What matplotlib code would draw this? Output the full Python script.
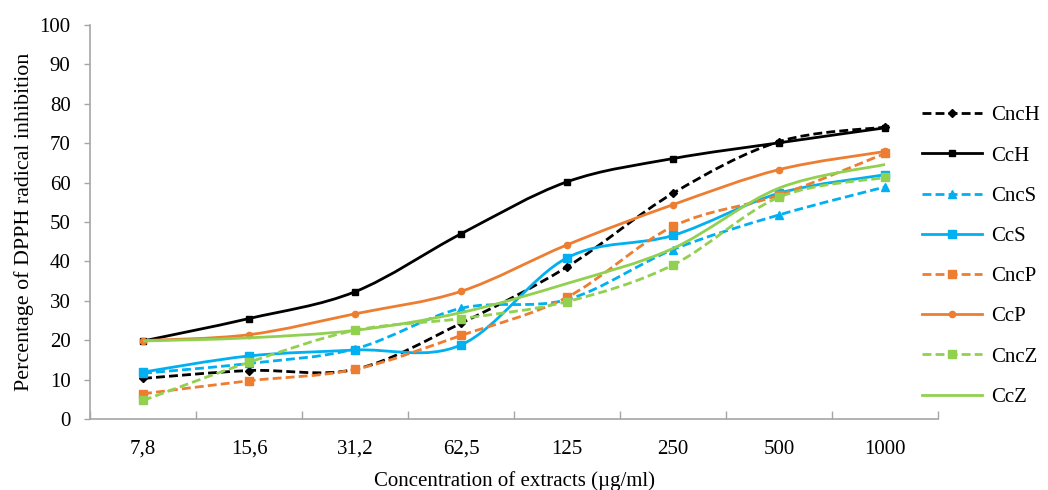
import numpy as np
import matplotlib
matplotlib.use('Agg')  # no display in the sandbox
import matplotlib.pyplot as plt
from matplotlib.path import Path
from matplotlib.patches import PathPatch
from matplotlib.lines import Line2D

plt.rcParams['font.family'] = ['Liberation Serif', 'DejaVu Serif']

# data
concentrations = ['7,8', '15,6', '31,2', '62,5', '125', '250', '500', '1000']

cnc_h = [10.3, 12.3, 12.6, 24.3, 38.6, 57.3, 70.4, 74.1]
cc_h = [19.8, 25.5, 32.3, 47.0, 60.2, 66.1, 70.1, 73.9]
cnc_s = [11.6, 14.1, 17.8, 28.1, 30.3, 43.0, 51.8, 58.9]
cc_s = [11.9, 16.0, 17.5, 18.8, 40.9, 46.6, 57.3, 62.0]
cnc_p = [6.4, 9.7, 12.6, 21.2, 30.9, 48.9, 56.8, 67.4]
cc_p = [19.9, 21.4, 26.7, 32.4, 44.2, 54.4, 63.3, 67.9]
cnc_z = [4.7, 14.4, 22.5, 25.5, 29.8, 39.1, 56.3, 61.3]
cc_z = [19.8, 20.6, 22.5, 27.0, 34.4, 43.3, 58.6, 64.6]

BLACK = '#000000'
BLUE = '#00B0F0'
ORANGE = '#ED7D31'
GREEN = '#92D050'
DASH = (0, (3.2, 1.5))

# name, values, colour, linestyle, marker, markersize
series = [
    ('CncH', cnc_h, BLACK, DASH, 'D', 4.0),
    ('CcH', cc_h, BLACK, '-', 's', 5.0),
    ('CncS', cnc_s, BLUE, DASH, '^', 6.0),
    ('CcS', cc_s, BLUE, '-', 's', 5.5),
    ('CncP', cnc_p, ORANGE, DASH, 's', 5.5),
    ('CcP', cc_p, ORANGE, '-', 'o', 4.5),
    ('CncZ', cnc_z, GREEN, DASH, 's', 5.5),
    ('CcZ', cc_z, GREEN, '-', None, 0),
]


def smooth_path(xs, ys):
    # Excel-like smoothed line: Catmull-Rom segments as cubic Beziers
    pts = np.column_stack([xs, ys]).astype(float)
    n = len(pts)
    verts = [pts[0]]
    codes = [Path.MOVETO]
    for i in range(n - 1):
        p0 = pts[max(i - 1, 0)]
        p1 = pts[i]
        p2 = pts[i + 1]
        p3 = pts[min(i + 2, n - 1)]
        verts += [p1 + (p2 - p0) / 6, p2 - (p3 - p1) / 6, p2]
        codes += [Path.CURVE4] * 3
    return Path(verts, codes)


fig = plt.figure(figsize=(10.48, 4.9), dpi=100)
ax = fig.add_axes([0.0859, 0.1449, 0.8092, 0.8041])

x = np.arange(len(concentrations))
lw = 2.0
handles = []
for z, (name, vals, color, ls, marker, ms) in enumerate(series):
    patch = PathPatch(smooth_path(x, vals), fill=False, edgecolor=color,
                      linewidth=lw, linestyle=ls, capstyle='butt', zorder=2 + z)
    ax.add_patch(patch)
    if marker:
        ax.plot(x, vals, linestyle='none', marker=marker, markersize=ms,
                color=color, zorder=2 + z)
    handles.append(Line2D([], [], color=color, linewidth=lw, linestyle=ls,
                          marker=marker, markersize=ms, label=name))

ax.set_xlim(-0.5, len(concentrations) - 0.5)
ax.set_ylim(0, 100)
ax.set_yticks(np.arange(0, 101, 10))

# category boundaries get the tick marks, labels sit in the middle
ax.set_xticks(np.arange(-0.5, len(concentrations), 1.0))
ax.set_xticklabels([])
ax.set_xticks(x, minor=True)
ax.set_xticklabels(concentrations, minor=True)
ax.tick_params(axis='x', which='major', direction='in', length=6,
               color='#A6A6A6', width=1)
ax.tick_params(axis='x', which='minor', length=0, pad=15, labelsize=15)
ax.tick_params(axis='y', direction='out', length=4, color='#A6A6A6',
               width=1, pad=10, labelsize=15)

for side in ['top', 'right']:
    ax.spines[side].set_visible(False)
for side in ['left', 'bottom']:
    ax.spines[side].set_color('#A6A6A6')
    ax.spines[side].set_linewidth(1.2)

ax.set_xlabel('Concentration of extracts (µg/ml)', fontsize=15)
ax.xaxis.set_label_coords(0.5, -0.133)
ax.set_ylabel('Percentage of DPPH radical inhibition', fontsize=15.8)
ax.yaxis.set_label_coords(-0.066, 0.5)

fig.legend(handles=handles, loc='upper left', bbox_to_anchor=(922 / 1048, 0.784),
           frameon=False, fontsize=15, handlelength=2.9, handletextpad=0.4,
           labelspacing=0.99, borderpad=0, borderaxespad=0, numpoints=1)

fig.savefig('out.png', dpi=100)
